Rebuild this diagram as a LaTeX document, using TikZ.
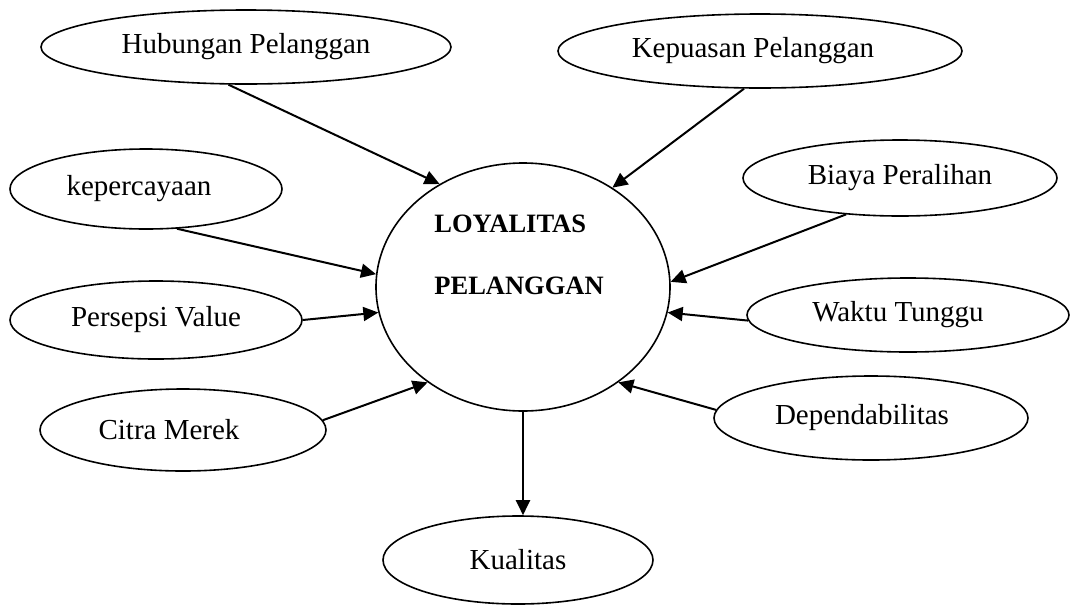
\documentclass[tikz,border=0pt]{standalone}
\usepackage{fontspec}
\setmainfont{Liberation Serif}
\usetikzlibrary{arrows.meta, positioning, shapes.geometric}

\begin{document}
\begin{tikzpicture}[x=0.5pt, y=-0.5pt,
    faktor/.style 2 args={ellipse, draw, line width=0.8pt, inner sep=0pt,
        minimum width=#1pt, minimum height=#2pt, font=\fontsize{14.5}{17}\selectfont},
    judul/.style={font=\fontsize{13.25}{16}\selectfont\bfseries, inner sep=0pt},
    panah/.style={-{Triangle[length=7.5pt, width=7pt]}, line width=1pt}]
\useasboundingbox (0,0) rectangle (1072,606);
% Pusat
\node[faktor={147}{124}] (loyal) at (523,287) {};
\node[judul, anchor=base west] (baris1) at (434,232) {LOYALITAS};
\node[judul, anchor=base west] (baris2) at (434,294) {PELANGGAN};
% Faktor kiri
\node[faktor={205}{37}] (hubungan) at (246,47) {Hubungan Pelanggan};
\node[faktor={136}{40}] (percaya) at (146,189) {kepercayaan\kern7pt};
\node[faktor={146}{39}] (persepsi) at (156,320) {Persepsi Value};
\node[faktor={143}{41}] (citra) at (183,430) {Citra Merek\kern14pt};
% Faktor kanan
\node[faktor={202}{37}] (kepuasan) at (760,51) {Kepuasan Pelanggan\kern7pt};
\node[faktor={157}{38}] (biaya) at (900,178) {Biaya Peralihan};
\node[faktor={161}{37}] (waktu) at (908,315) {Waktu Tunggu\kern10pt};
\node[faktor={157}{42}] (depend) at (871,418) {Dependabilitas\kern9pt};
% Bawah
\node[faktor={135}{44}] (kualitas) at (518,560) {Kualitas};
% Panah
\draw[panah] (hubungan.-115) -- (loyal.129);
\draw[panah] (percaya.-52) -- (loyal.175);
\draw[panah] (persepsi.0) -- (loyal.190);
\draw[panah] (citra.4) -- (loyal.225);
\draw[panah] (kepuasan.-113) -- (loyal.48);
\draw[panah] (biaya.-146) -- (loyal.2);
\draw[panah] (waktu.182) -- (loyal.-10);
\draw[panah] (depend.177) -- (loyal.-45);
\draw[panah] (loyal.south) -- (loyal.south |- kualitas.north);
\end{tikzpicture}
\end{document}
